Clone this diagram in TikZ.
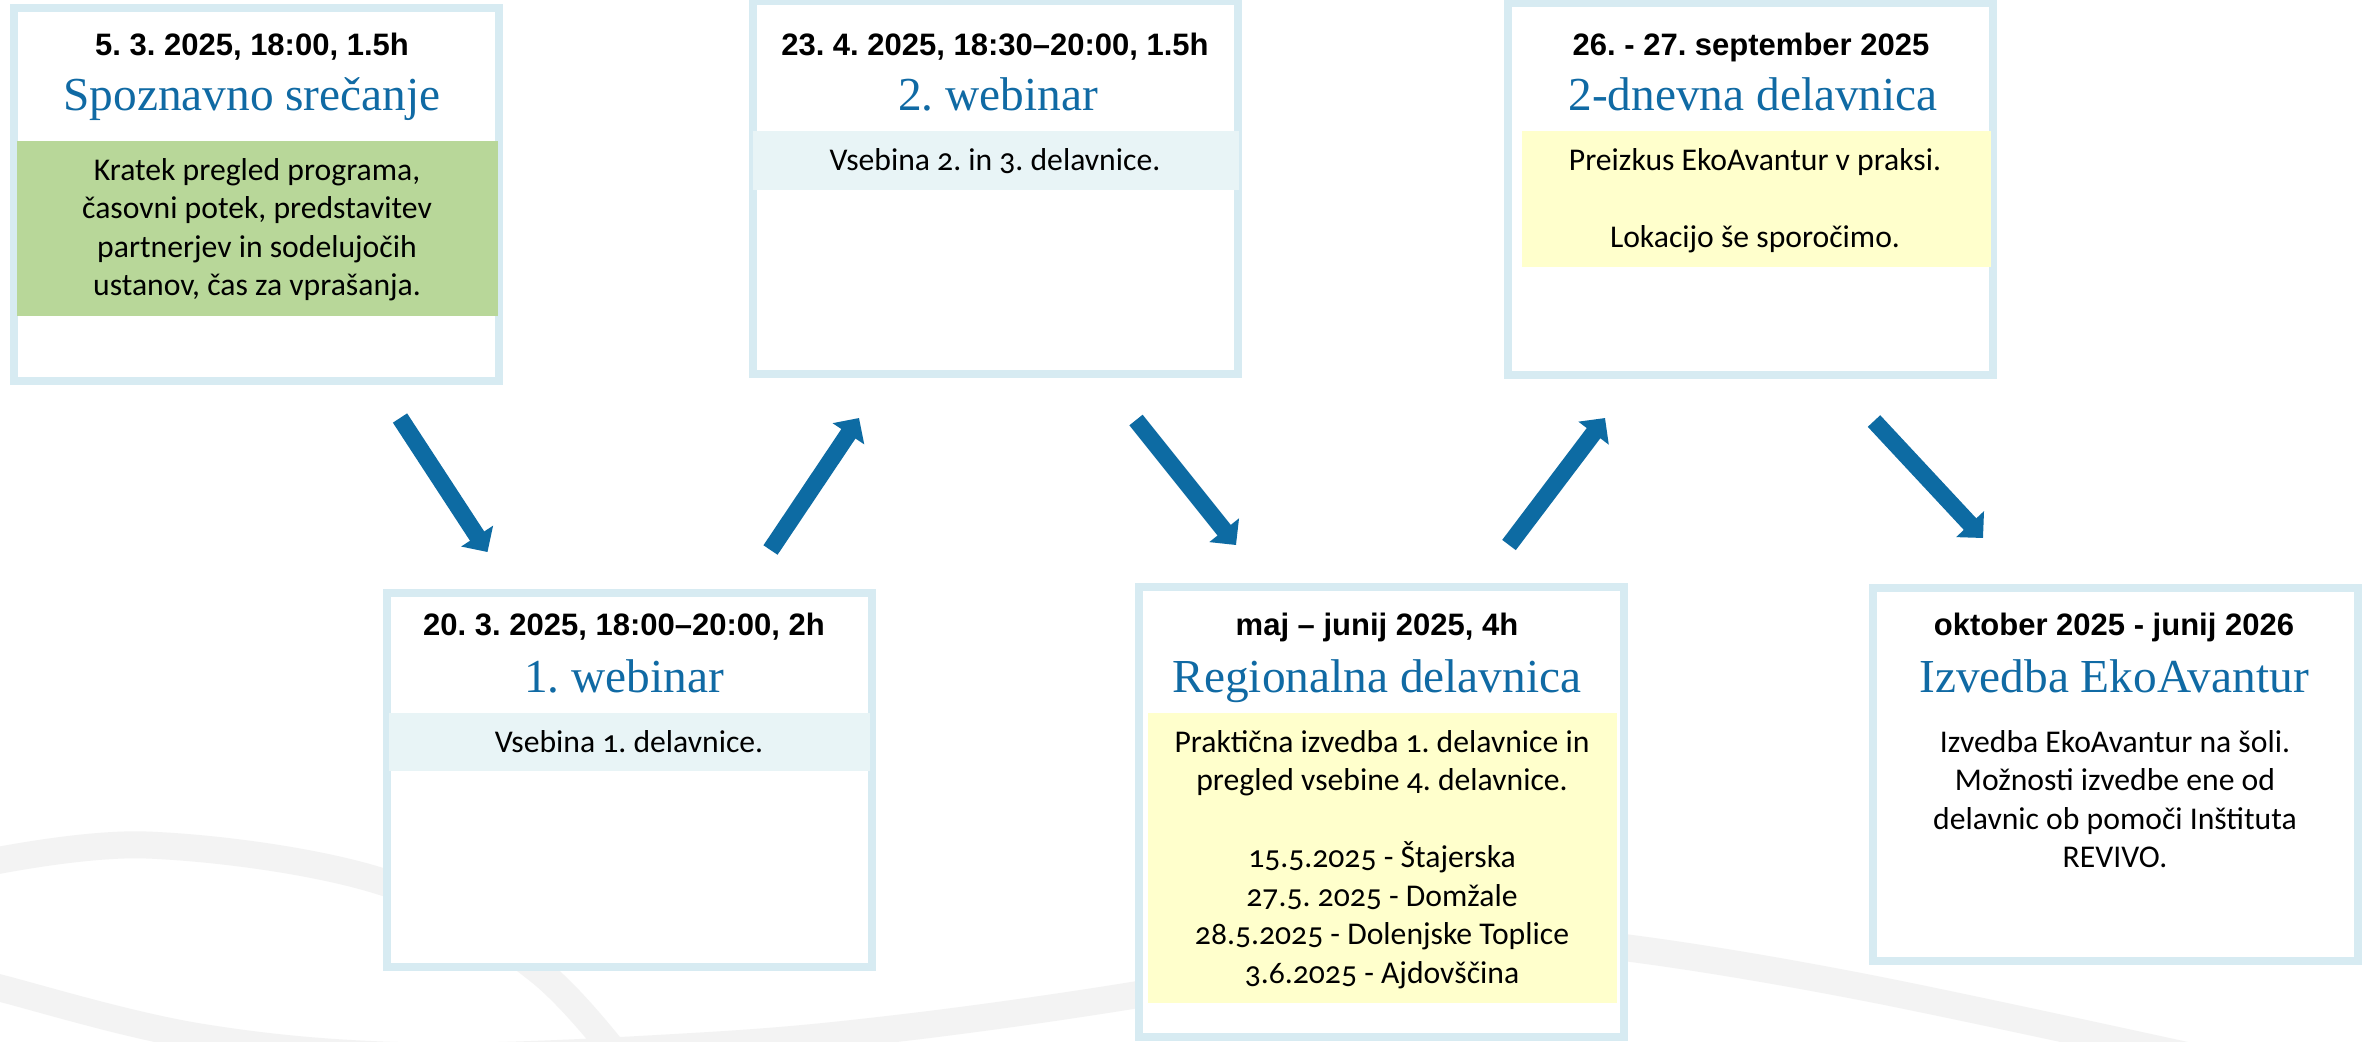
\documentclass[tikz,border=0pt]{standalone}
\usepackage{fontspec}
\setmainfont{Carlito}[Numbers=OldStyle]
\newfontfamily\datefont{Liberation Sans}
\newfontfamily\titlefont{Liberation Serif}
\usetikzlibrary{arrows.meta}
\definecolor{bordercol}{RGB}{215,235,242}
\definecolor{titleblue}{RGB}{16,106,164}
\definecolor{arrowblue}{RGB}{13,107,163}
\definecolor{greenband}{RGB}{184,215,153}
\definecolor{blueband}{RGB}{232,244,246}
\definecolor{yellowband}{RGB}{255,255,204}
\definecolor{swooshgrey}{RGB}{243,243,243}
\frenchspacing
\tikzset{
  boxstyle/.style={draw=bordercol, line width=2.4pt, fill=white, inner sep=0pt, outer sep=0pt, minimum width=145.5pt, rectangle},
  bandstyle/.style={draw=none, inner sep=0pt, outer sep=0pt, rectangle},
  datetext/.style={font=\datefont\bfseries\fontsize{9.3pt}{11pt}\selectfont, anchor=base, inner sep=0pt},
  titletext/.style={font=\titlefont\fontsize{14.2pt}{16pt}\selectfont, text=titleblue, anchor=base, inner sep=0pt},
  bodytext/.style={font=\fontsize{9.5pt}{11.5pt}\selectfont, anchor=base, inner sep=0pt},
  flowarrow/.style={draw=arrowblue, line width=5.1pt, -{Triangle[width=11.1pt,length=5.7pt]}},
  swoosh/.style={draw=swooshgrey, line width=8.1pt},
}
\begin{document}
\frenchspacing
\begin{tikzpicture}[x=0.3pt, y=-0.3pt]
\useasboundingbox (0,0) rectangle (2371,1041);
\fill[white] (0,0) rectangle (2371,1041);
% background swooshes
\draw[swoosh] plot[smooth, tension=0.6] coordinates {(-30,866) (147,845) (383,882) (539,971) (640,1085)};
\draw[swoosh] plot[smooth, tension=0.6] coordinates {(-30,978) (0,988) (200,1037) (420,1056) (700,1046) (900,1028) (1135,995) (1350,955) (1500,940) (1628,948) (1868,988) (2230,1065)};

% boxes
\node[boxstyle, minimum height=111.9pt] (box1) at (256.5,194.5) {};
\node[boxstyle, minimum height=111.9pt] (box2) at (995.5,187.5) {};
\node[boxstyle, minimum height=111.6pt] (box3) at (1750.5,189) {};
\node[boxstyle, minimum height=112.2pt] (box4) at (629.5,780) {};
\node[boxstyle, minimum height=135pt] (box5) at (1381.75,812) {};
\node[boxstyle, minimum height=111.9pt] (box6) at (2115,774.5) {};

% bands
\node[bandstyle, fill=greenband, minimum width=144.3pt, minimum height=52.5pt] (band1) at (257.5,228.5) {};
\node[bandstyle, fill=blueband, minimum width=145.8pt, minimum height=17.7pt] (band2) at (996,160.5) {};
\node[bandstyle, fill=yellowband, minimum width=140.7pt, minimum height=40.8pt] (band3) at (1756.5,199) {};
\node[bandstyle, fill=blueband, minimum width=144.3pt, minimum height=17.4pt] (band4) at (629.5,742) {};
\node[bandstyle, fill=yellowband, minimum width=140.85pt, minimum height=87pt] (band5) at (1382.25,858) {};

% box 1
\node[datetext] (d1) at (252,55) {5. 3. 2025, 18:00, 1.5h};
\node[titletext] (t1) at (252,110) {Spoznavno srečanje};
\node[bodytext] (b1a) at (257,180) {Kratek pregled programa,};
\node[bodytext] (b1b) at (257,218.5) {časovni potek, predstavitev};
\node[bodytext] (b1c) at (257,257) {partnerjev in sodelujočih};
\node[bodytext] (b1d) at (257,295.5) {ustanov, čas za vprašanja.};

% box 2
\node[datetext] (d2) at (995,55) {23. 4. 2025, 18:30–20:00, 1.5h};
\node[titletext] (t2) at (998,110) {2. webinar};
\node[bodytext] (b2a) at (995,170) {Vsebina 2. in 3. delavnice.};

% box 3
\node[datetext] (d3) at (1751,55) {26. - 27. september 2025};
\node[titletext] (t3) at (1753,110) {2-dnevna delavnica};
\node[bodytext] (b3a) at (1755,170) {Preizkus EkoAvantur v praksi.};
\node[bodytext] (b3b) at (1755,247) {Lokacijo še sporočimo.};

% box 4
\node[datetext] (d4) at (624,635) {20. 3. 2025, 18:00–20:00, 2h};
\node[titletext] (t4) at (624,692) {1. webinar};
\node[bodytext] (b4a) at (629,752) {Vsebina 1. delavnice.};

% box 5
\node[datetext] (d5) at (1377,635) {maj – junij 2025, 4h};
\node[titletext] (t5) at (1377,692) {Regionalna delavnica};
\node[bodytext] (b5a) at (1382,752) {Praktična izvedba 1. delavnice in};
\node[bodytext] (b5b) at (1382,790.5) {pregled vsebine 4. delavnice.};
\node[bodytext] (b5c) at (1382,867.5) {15.5.2025 - Štajerska};
\node[bodytext] (b5d) at (1382,906) {27.5. 2025 - Domžale};
\node[bodytext] (b5e) at (1382,944.5) {28.5.2025 - Dolenjske Toplice};
\node[bodytext] (b5f) at (1382,983) {3.6.2025 - Ajdovščina};

% box 6
\node[datetext] (d6) at (2114,635) {oktober 2025 - junij 2026};
\node[titletext] (t6) at (2114,692) {Izvedba EkoAvantur};
\node[bodytext] (b6a) at (2115,752) {Izvedba EkoAvantur na šoli.};
\node[bodytext] (b6b) at (2115,790.5) {Možnosti izvedbe ene od};
\node[bodytext] (b6c) at (2115,829) {delavnic ob pomoči Inštituta};
\node[bodytext] (b6d) at (2115,867.5) {REVIVO.};

% arrows
\coordinate (a1s) at (400,418);   \coordinate (a1e) at (487.5,552);
\coordinate (a2s) at (770.5,550); \coordinate (a2e) at (859,418);
\coordinate (a3s) at (1136,420);  \coordinate (a3e) at (1236,545);
\coordinate (a4s) at (1509,545);  \coordinate (a4e) at (1605,418);
\coordinate (a5s) at (1874,421);  \coordinate (a5e) at (1983,538);
\draw[flowarrow] (a1s) -- (a1e);
\draw[flowarrow] (a2s) -- (a2e);
\draw[flowarrow] (a3s) -- (a3e);
\draw[flowarrow] (a4s) -- (a4e);
\draw[flowarrow] (a5s) -- (a5e);
\end{tikzpicture}
\end{document}
